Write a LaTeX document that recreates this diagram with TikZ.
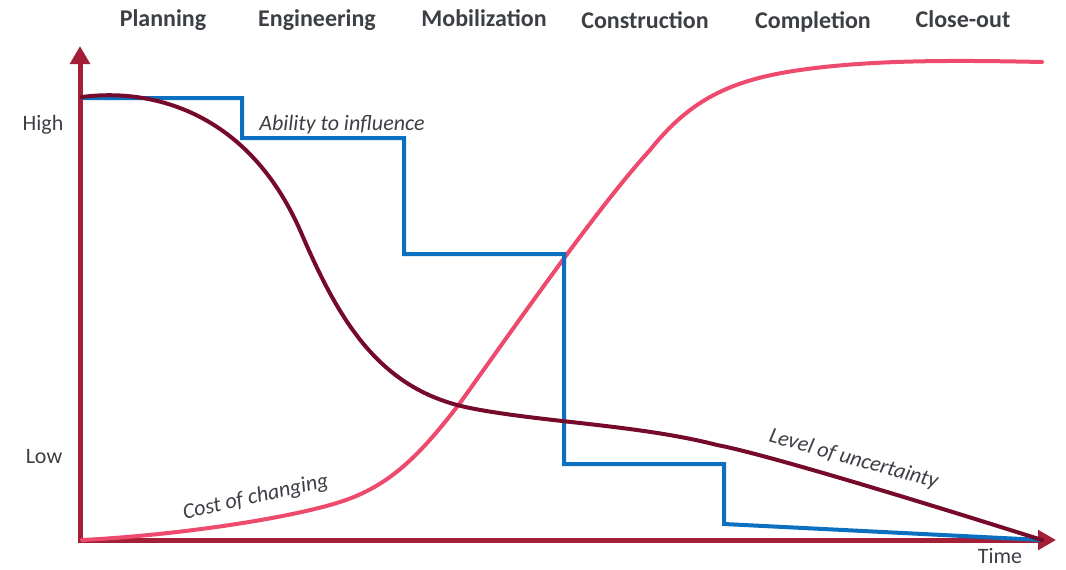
\documentclass[tikz,border=0pt]{standalone}
\usepackage{fontspec}
\setmainfont{Carlito}
\usetikzlibrary{arrows.meta}
\definecolor{axisred}{HTML}{A31F38}
\definecolor{maroon}{HTML}{760A2A}
\definecolor{pinkc}{HTML}{EE4A6E}
\definecolor{bluec}{HTML}{0B70C0}
\definecolor{txt}{HTML}{3C3F44}
\tikzset{
  heading/.style={font=\fontsize{18}{20}\selectfont\bfseries, text=txt, anchor=base, inner sep=0pt},
  lbl/.style={font=\fontsize{16.5}{18}\selectfont, text=txt, anchor=base, inner sep=0pt},
  ilbl/.style={font=\fontsize{16.5}{18}\selectfont\itshape, text=txt, anchor=base, inner sep=0pt},
  axisline/.style={draw=axisred, line width=3.75pt, -{Triangle[length=13.5pt,width=14.5pt]}},
  curve/.style={line width=3pt, line cap=round, line join=round},
}
\begin{document}
\begin{tikzpicture}[x=0.75pt,y=-0.75pt]
\useasboundingbox (0,0) rectangle (1066,569);
% axes
\coordinate (origin) at (80,540);
\coordinate (ytop) at (80,46);
\coordinate (xend) at (1056,540);
\draw[axisline] (80,542) -- (ytop);
\draw[axisline] (78,540) -- (xend);
% headings
\node[heading] (h1) at (163,26) {Planning};
\node[heading] (h2) at (317,26) {Engineering};
\node[heading] (h3) at (484,26) {Mobilization};
\node[heading] (h4) at (645,28) {Construction};
\node[heading] (h5) at (813,28) {Completion};
\node[heading] (h6) at (963,27) {Close-out};
% axis labels
\node[lbl] (high) at (43,130) {High};
\node[lbl] (low) at (44,463) {Low};
\node[lbl] (time) at (1000,563) {Time};
% pink: cost of changing
\draw[curve, pinkc] (82,540) .. controls (180,535) and (290,518) .. (340,502)
  .. controls (390,486) and (420,455) .. (460,403)
  .. controls (530,305) and (600,205) .. (650,150)
  .. controls (690,100) and (730,80) .. (800,70)
  .. controls (870,60) and (950,60) .. (1042,62);
% blue: ability to influence
\draw[curve, bluec, line cap=butt, line join=miter]
 (82,98) -- (242,98) -- (242,138) -- (404,138) -- (404,254) -- (564,254)
 -- (564,464) -- (724,464) -- (724,524) -- (1042,540);
% maroon: level of uncertainty
\draw[curve, maroon] (82,97) .. controls (150,88) and (250,110) .. (303,237)
  .. controls (340,322) and (380,390) .. (470,408)
  .. controls (540,422) and (640,425) .. (717,445)
  .. controls (760,453) and (900,495) .. (1042,540);
% curve labels
\node[ilbl] (abil) at (342,130) {Ability to influence};
\node[ilbl, rotate=-15.5] (unc) at (852,465) {Level of uncertainty};
\node[ilbl, rotate=12.5] (cost) at (257,503) {Cost of changing};
\end{tikzpicture}
\end{document}
